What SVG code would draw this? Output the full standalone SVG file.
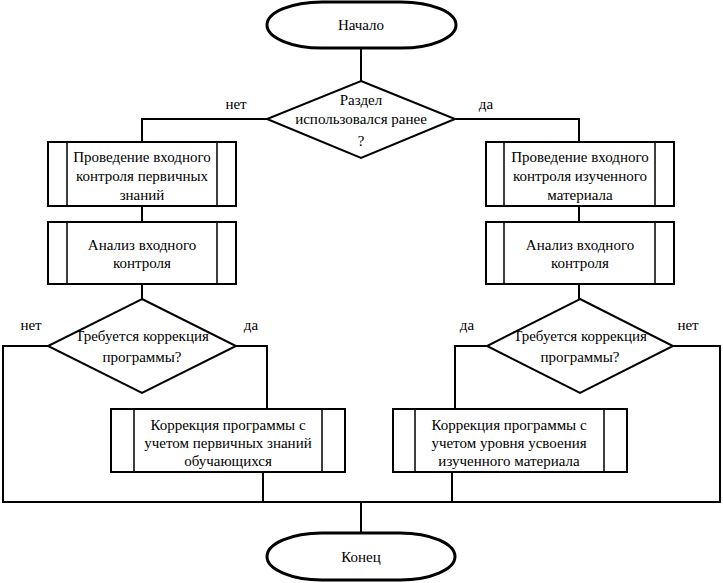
<svg xmlns="http://www.w3.org/2000/svg" width="723" height="583" viewBox="0 0 723 583">
<style>
.s{fill:#fff;stroke:#000;stroke-width:2}
.term{fill:#fff;stroke:#000;stroke-width:3}
.c{fill:none;stroke:#000;stroke-width:2}
.l{stroke:#000;stroke-width:1.5}
</style>
<rect width="723" height="583" fill="#fff"/>
<g id="connectors">
<path class="c" d="M361 48V81"/>
<path class="c" d="M267 119H142V142"/>
<path class="c" d="M455 119H579V142"/>
<path class="c" d="M142 206V222"/>
<path class="c" d="M579 206V222"/>
<path class="c" d="M142 284V299"/>
<path class="c" d="M579 284V299"/>
<path class="c" d="M48 346H3V502H720V346H673"/>
<path class="c" d="M236 346H267V409"/>
<path class="c" d="M487 346H455V409"/>
<path class="c" d="M263 472V502"/>
<path class="c" d="M452 472V502"/>
<path class="c" d="M361 502V533"/>
<g font-family="Liberation Serif" font-size="15" text-anchor="middle">
<text x="236" y="109">нет</text>
<text x="486" y="109">да</text>
<text x="31" y="330">нет</text>
<text x="251" y="330">да</text>
<text x="467" y="330">да</text>
<text x="688" y="330">нет</text>
</g>
</g>
<g id="start">
<rect class="term" x="267" y="2" width="189" height="46" rx="55" ry="23"/>
<text font-family="Liberation Serif" font-size="15" text-anchor="middle" x="361" y="30">Начало</text>
</g>
<g id="decision1">
<polygon class="s" points="361,81 455,119 361,158 267,119"/>
<g font-family="Liberation Serif" font-size="15" text-anchor="middle">
<text x="361" y="105">Раздел</text>
<text x="361" y="124">использовался ранее</text>
<text x="361" y="146">?</text>
</g>
</g>
<g id="left-input">
<rect class="s" x="48" y="142" width="188" height="64"/>
<path class="l" d="M67 142V206M217 142V206"/>
<g font-family="Liberation Serif" font-size="15" text-anchor="middle">
<text x="142" y="162">Проведение входного</text>
<text x="142" y="181">контроля первичных</text>
<text x="142" y="200">знаний</text>
</g>
</g>
<g id="left-analysis">
<rect class="s" x="48" y="222" width="188" height="62"/>
<path class="l" d="M67 222V284M217 222V284"/>
<g font-family="Liberation Serif" font-size="15" text-anchor="middle">
<text x="142" y="250">Анализ входного</text>
<text x="142" y="268">контроля</text>
</g>
</g>
<g id="right-input">
<rect class="s" x="486" y="142" width="188" height="64"/>
<path class="l" d="M504 142V206M655 142V206"/>
<g font-family="Liberation Serif" font-size="15" text-anchor="middle">
<text x="580" y="162">Проведение входного</text>
<text x="580" y="181">контроля изученного</text>
<text x="580" y="200">материала</text>
</g>
</g>
<g id="right-analysis">
<rect class="s" x="486" y="222" width="188" height="62"/>
<path class="l" d="M504 222V284M655 222V284"/>
<g font-family="Liberation Serif" font-size="15" text-anchor="middle">
<text x="580" y="250">Анализ входного</text>
<text x="580" y="268">контроля</text>
</g>
</g>
<g id="left-decision">
<polygon class="s" points="142,299 236,346 142,393 48,346"/>
<g font-family="Liberation Serif" font-size="15" text-anchor="middle">
<text x="142" y="341">Требуется коррекция</text>
<text x="142" y="362">программы?</text>
</g>
</g>
<g id="right-decision">
<polygon class="s" points="580,299 673,346 580,393 487,346"/>
<g font-family="Liberation Serif" font-size="15" text-anchor="middle">
<text x="580" y="341">Требуется коррекция</text>
<text x="580" y="362">программы?</text>
</g>
</g>
<g id="left-correction">
<rect class="s" x="111" y="409" width="234" height="63"/>
<path class="l" d="M134 409V472M322 409V472"/>
<g font-family="Liberation Serif" font-size="15" text-anchor="middle">
<text x="228" y="430">Коррекция программы с</text>
<text x="228" y="448">учетом первичных знаний</text>
<text x="228" y="466">обучающихся</text>
</g>
</g>
<g id="right-correction">
<rect class="s" x="393" y="409" width="234" height="63"/>
<path class="l" d="M415 409V472M604 409V472"/>
<g font-family="Liberation Serif" font-size="15" text-anchor="middle">
<text x="509" y="430">Коррекция программы с</text>
<text x="509" y="448">учетом уровня усвоения</text>
<text x="509" y="466">изученного материала</text>
</g>
</g>
<g id="end">
<rect class="term" x="267" y="533" width="188" height="47" rx="55" ry="23.5"/>
<text font-family="Liberation Serif" font-size="15" text-anchor="middle" x="361" y="562">Конец</text>
</g>
</svg>
